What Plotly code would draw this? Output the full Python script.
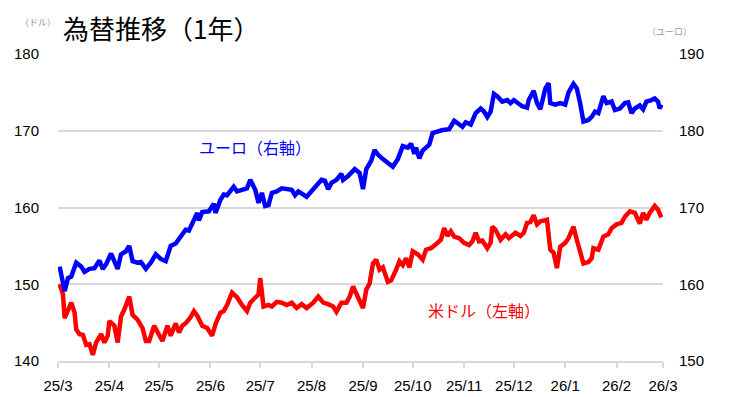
import plotly.graph_objects as go

# ---- data ----
eur_dates = [
    "2025-03-02","2025-03-03","2025-03-05","2025-03-07","2025-03-09","2025-03-12","2025-03-15","2025-03-17",
    "2025-03-20","2025-03-23","2025-03-26","2025-03-28","2025-03-30","2025-04-02","2025-04-04","2025-04-06",
    "2025-04-08","2025-04-11","2025-04-13","2025-04-15","2025-04-18","2025-04-20","2025-04-23","2025-04-26",
    "2025-04-29","2025-05-02","2025-05-05","2025-05-08","2025-05-11","2025-05-14","2025-05-17","2025-05-19",
    "2025-05-21","2025-05-24","2025-05-25","2025-05-27","2025-05-31","2025-06-03","2025-06-04","2025-06-07",
    "2025-06-09","2025-06-11","2025-06-15","2025-06-17","2025-06-20","2025-06-23","2025-06-25","2025-06-28",
    "2025-06-30","2025-07-02","2025-07-04","2025-07-06","2025-07-08","2025-07-11","2025-07-14","2025-07-17",
    "2025-07-20","2025-07-22","2025-07-24","2025-07-29","2025-08-01","2025-08-04","2025-08-07","2025-08-09",
    "2025-08-11","2025-08-13","2025-08-16","2025-08-19","2025-08-20","2025-08-23","2025-08-27","2025-08-30",
    "2025-09-01","2025-09-03","2025-09-06","2025-09-08","2025-09-10","2025-09-13","2025-09-16","2025-09-19",
    "2025-09-22","2025-09-25","2025-09-28","2025-09-30","2025-10-02","2025-10-03","2025-10-05","2025-10-07",
    "2025-10-09","2025-10-11","2025-10-13","2025-10-16","2025-10-19","2025-10-23","2025-10-26","2025-10-28",
    "2025-10-31","2025-11-02","2025-11-05","2025-11-08","2025-11-11","2025-11-13","2025-11-15","2025-11-17",
    "2025-11-19","2025-11-21","2025-11-24","2025-11-27","2025-11-29","2025-12-01","2025-12-03","2025-12-06",
    "2025-12-09","2025-12-10","2025-12-13","2025-12-15","2025-12-17","2025-12-19","2025-12-20","2025-12-22",
    "2025-12-23","2025-12-26","2025-12-29","2026-01-01","2026-01-03","2026-01-06","2026-01-08","2026-01-10",
    "2026-01-12","2026-01-15","2026-01-17","2026-01-19","2026-01-21","2026-01-24","2026-01-26","2026-01-29",
    "2026-01-31","2026-02-03","2026-02-06","2026-02-08","2026-02-10","2026-02-12","2026-02-15","2026-02-17",
    "2026-02-19","2026-02-22","2026-02-24","2026-02-26","2026-02-27","2026-02-28",
]
eur_values = [
    162.3,161.3,159.1,160.8,161.0,162.8,162.3,161.6,
    162.0,162.1,163.1,162.0,162.6,164.0,162.9,162.0,
    163.9,164.3,165.0,163.0,162.8,162.9,162.0,162.8,
    163.9,163.3,163.0,165.0,165.3,166.3,167.1,167.0,
    168.0,169.3,168.3,169.4,169.5,170.5,169.3,171.0,
    171.7,171.6,172.7,172.1,172.3,172.5,173.6,172.3,
    170.6,171.9,170.2,170.3,171.9,172.1,172.5,172.4,
    172.3,171.6,172.1,171.4,172.1,172.9,173.6,173.5,
    172.4,173.2,173.6,174.4,173.6,174.1,175.0,174.5,
    172.4,175.0,176.1,177.5,176.9,176.3,175.7,175.3,
    176.3,178.0,177.8,178.3,177.0,177.8,176.4,177.4,
    177.8,178.2,179.7,179.9,180.1,180.2,181.3,181.0,
    180.5,181.1,180.8,182.3,182.9,182.5,181.8,182.5,
    184.8,184.5,183.8,184.0,183.6,184.0,183.6,183.2,
    183.0,184.0,185.2,183.6,182.8,184.4,185.5,186.2,
    183.6,183.4,183.6,183.4,185.0,186.1,185.5,183.6,
    181.2,181.4,181.8,182.5,182.3,184.5,183.6,183.8,
    182.7,182.9,183.6,183.7,182.3,182.9,183.3,182.8,
    183.8,184.0,184.2,183.8,182.9,183.4,
]

usd_dates = [
    "2025-03-02","2025-03-04","2025-03-05","2025-03-07","2025-03-09","2025-03-11","2025-03-12","2025-03-14",
    "2025-03-16","2025-03-18","2025-03-20","2025-03-22","2025-03-24","2025-03-27","2025-03-29","2025-03-31",
    "2025-04-01","2025-04-04","2025-04-06","2025-04-08","2025-04-10","2025-04-13","2025-04-15","2025-04-18",
    "2025-04-21","2025-04-23","2025-04-25","2025-04-28","2025-04-30","2025-05-03","2025-05-06","2025-05-08",
    "2025-05-11","2025-05-13","2025-05-15","2025-05-17","2025-05-20","2025-05-22","2025-05-24","2025-05-27",
    "2025-05-30","2025-06-02","2025-06-04","2025-06-07","2025-06-09","2025-06-11","2025-06-14","2025-06-17",
    "2025-06-20","2025-06-23","2025-06-25","2025-06-28","2025-06-30","2025-07-01","2025-07-03","2025-07-06",
    "2025-07-08","2025-07-11","2025-07-14","2025-07-17","2025-07-20","2025-07-23","2025-07-26","2025-07-29",
    "2025-08-02","2025-08-05","2025-08-08","2025-08-11","2025-08-14","2025-08-16","2025-08-19","2025-08-22",
    "2025-08-24","2025-08-26","2025-08-28","2025-08-30","2025-09-01","2025-09-03","2025-09-05","2025-09-07",
    "2025-09-09","2025-09-11","2025-09-13","2025-09-16","2025-09-18","2025-09-21","2025-09-23","2025-09-25",
    "2025-09-27","2025-09-29","2025-10-01","2025-10-04","2025-10-07","2025-10-09","2025-10-12","2025-10-15",
    "2025-10-18","2025-10-20","2025-10-22","2025-10-24","2025-10-26","2025-10-29","2025-11-01","2025-11-04",
    "2025-11-06","2025-11-08","2025-11-10","2025-11-12","2025-11-15","2025-11-17","2025-11-18","2025-11-20",
    "2025-11-23","2025-11-26","2025-11-28","2025-12-02","2025-12-05","2025-12-07","2025-12-09","2025-12-11",
    "2025-12-13","2025-12-15","2025-12-17","2025-12-21","2025-12-23","2025-12-25","2025-12-27","2025-12-29",
    "2026-01-01","2026-01-03","2026-01-06","2026-01-08","2026-01-10","2026-01-12","2026-01-15","2026-01-17",
    "2026-01-18","2026-01-21","2026-01-24","2026-01-27","2026-01-29","2026-02-01","2026-02-04","2026-02-06",
    "2026-02-09","2026-02-12","2026-02-15","2026-02-17","2026-02-19","2026-02-21","2026-02-24","2026-02-26",
    "2026-02-28",
]
usd_values = [
    150.0,148.7,145.6,146.7,147.6,146.3,144.1,143.5,
    143.4,142.1,142.2,140.8,142.4,143.5,142.4,143.3,
    145.2,144.6,142.4,145.8,146.7,148.4,146.0,145.4,
    144.3,142.6,142.6,144.6,143.8,142.6,144.6,143.3,
    144.9,143.7,144.6,144.9,145.7,146.5,145.9,144.6,
    144.3,143.3,144.8,146.3,146.5,147.3,148.9,148.3,
    147.3,146.5,147.6,148.3,148.7,150.8,147.1,147.3,
    147.1,147.7,147.6,147.3,147.6,146.9,147.4,146.9,
    147.6,148.4,147.6,147.4,147.1,146.4,147.6,147.6,
    148.4,149.7,148.8,147.6,146.9,149.3,150.1,152.7,
    153.2,151.9,152.2,150.3,150.5,151.9,153.0,152.5,
    153.4,152.2,154.3,153.9,153.2,154.5,154.7,155.2,
    155.8,157.3,156.3,156.9,156.2,156.0,155.4,155.1,
    155.6,156.7,155.6,155.7,154.7,155.4,157.5,157.1,
    155.8,156.5,156.0,156.7,156.3,156.7,158.0,158.1,
    159.0,157.8,158.2,158.4,154.5,154.1,152.1,154.9,
    155.4,156.0,157.5,155.8,154.3,152.7,152.9,153.4,
    154.7,154.5,156.2,156.5,157.3,157.8,158.0,158.8,
    159.5,159.3,157.9,159.3,158.4,159.3,160.2,159.7,
    158.7,
]

left_ticks = [140, 150, 160, 170, 180]
right_ticks = [150, 160, 170, 180, 190]
x_range = ["2025-03-01", "2026-03-01"]

title_text = "為替推移（1年）"
left_unit = "（ドル）"
right_unit = "（ユーロ）"
eur_label = "ユーロ（右軸）"
usd_label = "米ドル（左軸）"

JP = "Noto Sans CJK JP, sans-serif"
NUM = "Liberation Sans, Arial, sans-serif"
NARROW = "Liberation Sans Narrow, Arial Narrow, Liberation Sans, sans-serif"
GRID = "#d9d9d9"

fig = go.Figure()
fig.add_trace(go.Scatter(x=usd_dates, y=usd_values, mode="lines",
                         line=dict(color="#ff0000", width=4.5), yaxis="y", name="usd"))
fig.add_trace(go.Scatter(x=eur_dates, y=eur_values, mode="lines",
                         line=dict(color="#0000ff", width=4.5), yaxis="y2", name="eur"))

# the page body has an 8px default margin, so the figure is 8px smaller on each side
fig.update_layout(
    width=725, height=389,
    margin=dict(l=50, r=70, t=46, b=36, autoexpand=False),
    paper_bgcolor="white", plot_bgcolor="white",
    showlegend=False,
    xaxis=dict(
        type="date", range=x_range, dtick="M1", tickformat="%y/%-m",
        showgrid=False, zeroline=False, automargin=False,
        showline=True, linecolor=GRID, linewidth=2,
        ticks="outside", ticklen=5, tickwidth=2, tickcolor=GRID,
        ticklabelstandoff=5,
        tickfont=dict(family=NARROW, size=15, color="black"),
    ),
    yaxis=dict(
        range=[140, 180], tickvals=left_ticks, automargin=False,
        showgrid=True, gridcolor=GRID, gridwidth=2, zeroline=False,
        showline=False, ticks="",
        ticklabelstandoff=18,
        tickfont=dict(family=NUM, size=15, color="black"),
    ),
    yaxis2=dict(
        range=[150, 190], tickvals=right_ticks, overlaying="y", side="right",
        showgrid=False, zeroline=False, showline=False, ticks="", automargin=False,
        ticklabelstandoff=15,
        tickfont=dict(family=NUM, size=15, color="black"),
    ),
    annotations=[
        dict(text=title_text, xref="paper", yref="paper", x=0.0066, y=1.149,
             xanchor="left", yanchor="top", showarrow=False, borderpad=0,
             font=dict(family=JP, size=26, color="black")),
        dict(text=left_unit, xref="paper", yref="paper", x=-0.066, y=1.101,
             xanchor="left", yanchor="middle", showarrow=False,
             font=dict(family=JP, size=9, color="#999999")),
        dict(text=right_unit, xref="paper", yref="paper", x=0.970, y=1.072,
             xanchor="left", yanchor="middle", showarrow=False,
             font=dict(family=JP, size=9, color="#999999")),
        dict(text=eur_label, xref="paper", yref="paper", x=0.3256, y=0.697,
             xanchor="center", yanchor="middle", showarrow=False,
             font=dict(family=JP, size=16, color="#0000ff")),
        dict(text=usd_label, xref="paper", yref="paper", x=0.704, y=0.166,
             xanchor="center", yanchor="middle", showarrow=False,
             font=dict(family=JP, size=16, color="#ff0000")),
    ],
)

fig.write_html("out.html")
